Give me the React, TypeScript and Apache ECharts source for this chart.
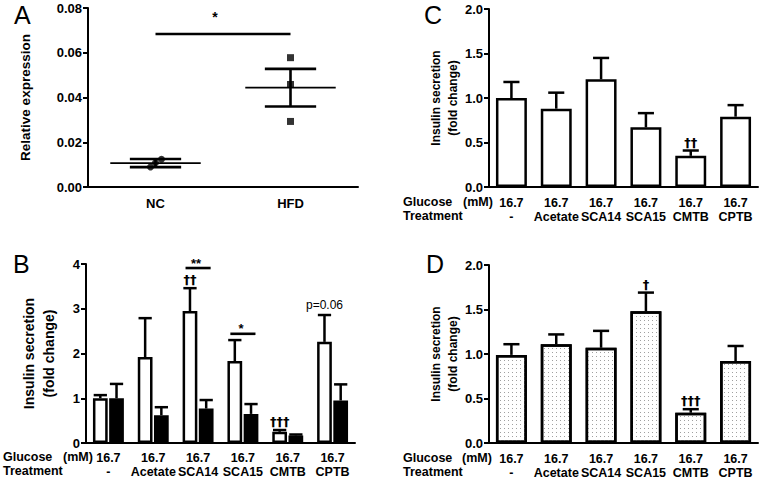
import React, { useEffect, useRef } from 'react';
import * as echarts from 'echarts';

// ---------- Data ----------
const A_CATS = ['NC', 'HFD'];
const A_NC_POINTS = [0.0089, 0.0108, 0.0124];
const A_HFD_POINTS = [0.0578, 0.0458, 0.0293];
const A_MEANS = [0.0107, 0.0444];
const A_SEMS = [0.0018, 0.0084];
const A_SIG_Y = 0.0684;
const A_TICKS = [0, 0.02, 0.04, 0.06, 0.08];

const TREATMENTS = ['-', 'Acetate', 'SCA14', 'SCA15', 'CMTB', 'CPTB'];
const GLUCOSE = ['16.7', '16.7', '16.7', '16.7', '16.7', '16.7'];

const B_NC = [1.0, 1.92, 2.95, 1.83, 0.25, 2.26];
const B_NC_ERR = [0.07, 0.87, 0.51, 0.47, 0.04, 0.6];
const B_HFD = [1.0, 0.62, 0.77, 0.65, 0.17, 0.95];
const B_HFD_ERR = [0.32, 0.18, 0.19, 0.22, 0.02, 0.36];
const B_NC_MARKS = ['', '', '††', '', '†††', 'p=0.06'];
const B_SIG_CATS = [2, 3];
const B_SIG_Y = [3.91, 2.44];
const B_SIG_TEXT = ['**', '*'];

const C_VALS = [1.0, 0.88, 1.21, 0.67, 0.35, 0.79];
const C_ERR = [0.18, 0.18, 0.24, 0.16, 0.06, 0.13];
const C_MARKS = ['', '', '', '', '††', ''];

const D_VALS = [0.99, 1.11, 1.07, 1.48, 0.34, 0.92];
const D_ERR = [0.12, 0.11, 0.19, 0.21, 0.04, 0.17];
const D_MARKS = ['', '', '', '†', '†††', ''];

// ---------- Style ----------
const FONT = 'Liberation Sans, Arial, Helvetica, sans-serif';
const DAGGER_FONT = `bold 13px DejaVu Sans, ${FONT}`;
const BLACK = '#000';

function yAxis(gridIndex: number, max: number, interval: number, digits: number, name: string, nameGap: number, nameSize: number, nameLH: number) {
  return {
    type: 'value',
    gridIndex,
    min: 0,
    max,
    interval,
    splitLine: { show: false },
    axisLine: { show: true, lineStyle: { color: BLACK, width: 2 } },
    axisTick: { show: true, length: 5, lineStyle: { color: BLACK, width: 2 } },
    axisLabel: {
      color: BLACK, fontWeight: 'bold', fontSize: 13, fontFamily: FONT, margin: 6,
      formatter: (v: number) => v.toFixed(digits),
    },
    name,
    nameLocation: 'middle',
    nameRotate: 90,
    nameGap,
    nameTextStyle: { color: BLACK, fontWeight: 'bold', fontSize: nameSize, fontFamily: FONT, lineHeight: nameLH },
  };
}

function xAxisTable(gridIndex: number, margin: number) {
  return {
    type: 'category',
    gridIndex,
    data: TREATMENTS,
    axisLine: { show: true, lineStyle: { color: BLACK, width: 2 } },
    axisTick: { show: false },
    axisLabel: {
      interval: 0,
      margin,
      color: BLACK,
      fontWeight: 'bold',
      fontSize: 12.5,
      lineHeight: 14,
      fontFamily: FONT,
      formatter: (_v: string, i: number) => `${GLUCOSE[i]}\n${TREATMENTS[i]}`,
    },
  };
}

function errSeries(
  xAxisIndex: number, vals: number[], errs: number[], marks: string[] | null,
  side: number, nBars: number, catGap: number, barGap: number, capRatio: number
) {
  return {
    type: 'custom',
    xAxisIndex,
    yAxisIndex: xAxisIndex,
    silent: true,
    z: 5,
    data: vals.map((v, i) => [i, v, errs[i], i]),
    renderItem: (_p: any, api: any) => {
      const cat = api.value(0);
      const v = api.value(1);
      const e = api.value(2);
      const idx = api.value(3);
      const band = api.size([1, 0])[0];
      const w = (band * (1 - catGap)) / (nBars + (nBars - 1) * barGap);
      const off = side * (w / 2 + (w * barGap) / 2);
      const p0 = api.coord([cat, v]);
      const p1 = api.coord([cat, v + e]);
      const x = p0[0] + off;
      const cap = w * capRatio;
      const children: any[] = [
        { type: 'line', shape: { x1: x, y1: p0[1], x2: x, y2: p1[1] }, style: { stroke: BLACK, lineWidth: 2.5 } },
        { type: 'line', shape: { x1: x - cap, y1: p1[1], x2: x + cap, y2: p1[1] }, style: { stroke: BLACK, lineWidth: 2.5 } },
      ];
      const m = marks ? marks[idx] : '';
      if (m) {
        const isP = m.startsWith('p');
        children.push({
          type: 'text',
          x,
          y: p1[1] - (isP ? 4 : 2),
          style: {
            text: m, textAlign: 'center', textVerticalAlign: 'bottom', fill: BLACK,
            font: isP ? `normal 12px ${FONT}` : DAGGER_FONT,
          },
        });
      }
      return { type: 'group', children };
    },
  };
}

function panelLabel(text: string, x: number, y: number) {
  return {
    type: 'text', x, y,
    style: { text, fill: BLACK, font: `normal 25px ${FONT}`, textAlign: 'left', textVerticalAlign: 'middle' },
  };
}

function tableLabels(x: number, mmX: number, y1: number, y2: number) {
  const f = `bold 12.5px ${FONT}`;
  return [
    { type: 'text', x, y: y1, style: { text: 'Glucose', fill: BLACK, font: f, textAlign: 'left', textVerticalAlign: 'middle' } },
    { type: 'text', x: mmX, y: y1, style: { text: '(mM)', fill: BLACK, font: f, textAlign: 'left', textVerticalAlign: 'middle' } },
    { type: 'text', x, y: y2, style: { text: 'Treatment', fill: BLACK, font: f, textAlign: 'left', textVerticalAlign: 'middle' } },
  ];
}

const barStyleWhite = { color: '#fff', borderColor: BLACK, borderWidth: 2.5 };
const barStyleBlack = { color: BLACK, borderColor: BLACK, borderWidth: 2.5 };
const barStyleDotted = {
  color: '#fff', borderColor: BLACK, borderWidth: 2.5,
  decal: { symbol: 'rect', symbolSize: 1, color: '#a0a0a0', dashArrayX: [1, 3], dashArrayY: [1, 3], rotation: 0 },
};

export default function App() {
  const ref = useRef<HTMLDivElement>(null);
  useEffect(() => {
    if (!ref.current) return;
    const chart = echarts.init(ref.current, undefined, { renderer: 'svg' });
    const option: any = {
      animation: false,
      backgroundColor: '#fff',
      grid: [
        { left: 88, top: 8, width: 270, height: 179 },
        { left: 86, top: 264, width: 269, height: 179 },
        { left: 489, top: 9, width: 269, height: 178 },
        { left: 489, top: 265, width: 269, height: 178 },
      ],
      xAxis: [
        {
          type: 'category', gridIndex: 0, data: A_CATS,
          axisLine: { show: true, lineStyle: { color: BLACK, width: 2 } },
          axisTick: { show: false },
          axisLabel: { color: BLACK, fontWeight: 'bold', fontSize: 13, fontFamily: FONT, margin: 10 },
        },
        xAxisTable(1, 8),
        xAxisTable(2, 9),
        xAxisTable(3, 9),
      ],
      yAxis: [
        yAxis(0, A_TICKS[A_TICKS.length - 1], A_TICKS[1] - A_TICKS[0], 2, 'Relative expression', 54, 13.5, 17),
        yAxis(1, 4, 1, 0, 'Insulin secretion\n(fold change)', 27, 14, 20),
        yAxis(2, 2, 0.5, 1, 'Insulin secretion\n(fold change)', 28, 12, 17),
        yAxis(3, 2, 0.5, 1, 'Insulin secretion\n(fold change)', 28, 12, 17),
      ],
      series: [
        // ---- Panel A ----
        {
          type: 'custom', xAxisIndex: 0, yAxisIndex: 0, silent: true,
          data: A_MEANS.map((m, i) => [i, m, A_SEMS[i]]),
          renderItem: (_p: any, api: any) => {
            const cat = api.value(0), m = api.value(1), s = api.value(2);
            const band = api.size([1, 0])[0];
            const c = api.coord([cat, m]);
            const hi = api.coord([cat, m + s]);
            const lo = api.coord([cat, m - s]);
            const mh = band * 0.335, ch = band * 0.19;
            const st = { stroke: BLACK, lineWidth: 2.6 };
            return {
              type: 'group',
              children: [
                { type: 'line', shape: { x1: c[0] - mh, y1: c[1], x2: c[0] + mh, y2: c[1] }, style: { stroke: BLACK, lineWidth: 1.8 } },
                { type: 'line', shape: { x1: c[0], y1: hi[1], x2: c[0], y2: lo[1] }, style: st },
                { type: 'line', shape: { x1: c[0] - ch, y1: hi[1], x2: c[0] + ch, y2: hi[1] }, style: st },
                { type: 'line', shape: { x1: c[0] - ch, y1: lo[1], x2: c[0] + ch, y2: lo[1] }, style: st },
              ],
            };
          },
        },
        {
          type: 'scatter', xAxisIndex: 0, yAxisIndex: 0, symbol: 'circle', symbolSize: 7,
          itemStyle: { color: BLACK },
          data: A_NC_POINTS.map((v, i) => ({ value: [0, v], symbolOffset: [[-5, 0], [0, 0], [6, 0]][i] })),
        },
        {
          type: 'scatter', xAxisIndex: 0, yAxisIndex: 0, symbol: 'rect', symbolSize: 7,
          itemStyle: { color: BLACK },
          data: A_HFD_POINTS.map((v) => [1, v]),
        },
        {
          type: 'custom', xAxisIndex: 0, yAxisIndex: 0, silent: true,
          data: [[0, 1, A_SIG_Y]],
          renderItem: (_p: any, api: any) => {
            const a = api.coord([api.value(0), api.value(2)]);
            const b = api.coord([api.value(1), api.value(2)]);
            return {
              type: 'group',
              children: [
                { type: 'line', shape: { x1: a[0], y1: a[1], x2: b[0], y2: b[1] }, style: { stroke: BLACK, lineWidth: 2.6 } },
                { type: 'text', x: (a[0] + b[0]) / 2 - 8, y: a[1] - 17, style: { text: '*', fill: BLACK, font: `bold 14px ${FONT}`, textAlign: 'center', textVerticalAlign: 'middle' } },
              ],
            };
          },
        },
        // ---- Panel B ----
        {
          type: 'bar', xAxisIndex: 1, yAxisIndex: 1, data: B_NC, itemStyle: barStyleWhite,
          barCategoryGap: '31%', barGap: '10%',
        },
        {
          type: 'bar', xAxisIndex: 1, yAxisIndex: 1, data: B_HFD, itemStyle: barStyleBlack,
          barCategoryGap: '31%', barGap: '10%',
        },
        errSeries(1, B_NC, B_NC_ERR, B_NC_MARKS, -1, 2, 0.31, 0.1, 0.45),
        errSeries(1, B_HFD, B_HFD_ERR, null, 1, 2, 0.31, 0.1, 0.45),
        {
          type: 'custom', xAxisIndex: 1, yAxisIndex: 1, silent: true, z: 5,
          data: B_SIG_CATS.map((c, i) => [c, B_SIG_Y[i], i]),
          renderItem: (_p: any, api: any) => {
            const p = api.coord([api.value(0), api.value(1)]);
            const band = api.size([1, 0])[0];
            const h = band * 0.28;
            return {
              type: 'group',
              children: [
                { type: 'line', shape: { x1: p[0] - h, y1: p[1], x2: p[0] + h, y2: p[1] }, style: { stroke: BLACK, lineWidth: 2.6 } },
                { type: 'text', x: p[0] - 2, y: p[1] - 5, style: { text: B_SIG_TEXT[api.value(2)], fill: BLACK, font: `bold 13px ${FONT}`, textAlign: 'center', textVerticalAlign: 'middle' } },
              ],
            };
          },
        },
        // ---- Panel C ----
        {
          type: 'bar', xAxisIndex: 2, yAxisIndex: 2, data: C_VALS, itemStyle: barStyleWhite,
          barCategoryGap: '31%',
        },
        errSeries(2, C_VALS, C_ERR, C_MARKS, 0, 1, 0.31, 0, 0.26),
        // ---- Panel D ----
        {
          type: 'bar', xAxisIndex: 3, yAxisIndex: 3, data: D_VALS, itemStyle: barStyleDotted,
          barCategoryGap: '31%',
        },
        errSeries(3, D_VALS, D_ERR, D_MARKS, 0, 1, 0.31, 0, 0.26),
      ],
      graphic: [
        panelLabel('A', 14, 15),
        panelLabel('B', 13, 264),
        panelLabel('C', 424, 15),
        panelLabel('D', 426, 264),
        ...tableLabels(3, 63, 456.5, 470.5),
        ...tableLabels(403, 463, 201.5, 215.5),
        ...tableLabels(403, 462, 457.5, 471.5),
      ],
    };
    chart.setOption(option);
    return () => chart.dispose();
  }, []);
  return (
    <div
      ref={ref}
      style={{ position: 'absolute', left: 0, top: 0, width: 762, height: 481, background: '#fff' }}
    />
  );
}
